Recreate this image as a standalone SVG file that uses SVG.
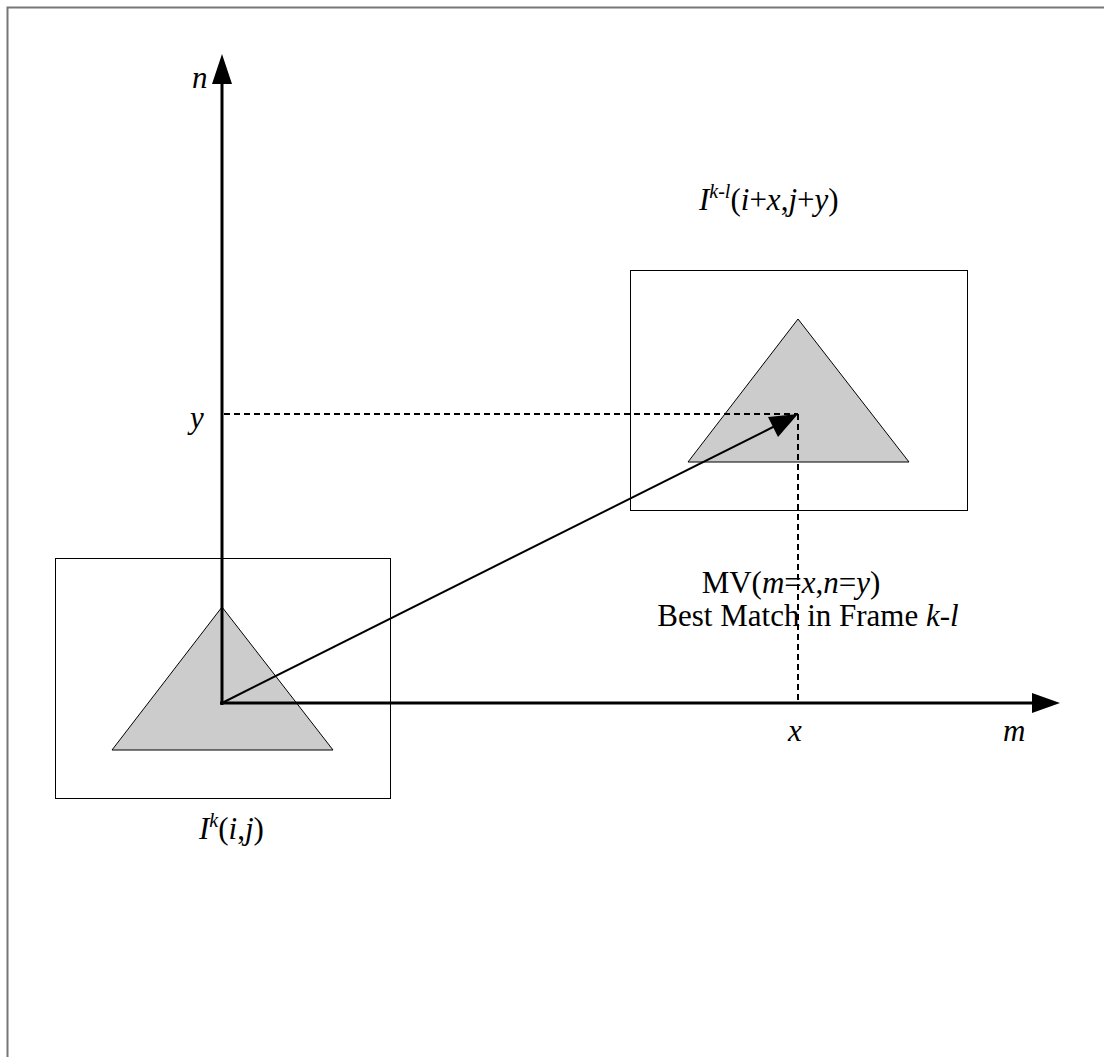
<svg xmlns="http://www.w3.org/2000/svg" width="1104" height="1057" viewBox="0 0 1104 1057">
<style>
.t{font-family:"Liberation Serif","Times New Roman",serif;font-size:31px;fill:#000}
.i{font-style:italic}
.sup{font-size:20px}
.box{fill:none;stroke:#000;stroke-width:1}
.tri{fill:#cccccc;stroke:#000;stroke-width:1}
.axis{stroke:#000;stroke-width:3;fill:none}
.dash{stroke:#000;stroke-width:2;stroke-dasharray:6,4;fill:none}
</style>
<rect x="7.5" y="7.5" width="1110" height="1070" fill="#fff" stroke="#777" stroke-width="2"/>
<g id="block-k">
<rect class="box" x="55.5" y="558.5" width="335" height="240"/>
<polygon class="tri" points="222,607 112,750 333,750"/>
<text class="t i" x="199" y="839">I<tspan class="sup" dy="-12">k</tspan><tspan dy="12" font-style="normal">(</tspan>i<tspan font-style="normal">,</tspan>j<tspan font-style="normal">)</tspan></text>
</g>
<g id="block-kl">
<rect class="box" x="630.5" y="270.5" width="337" height="240"/>
<polygon class="tri" points="798,319 688,462 909,462"/>
<text class="t i" x="699" y="210">I<tspan class="sup" dy="-12">k-l</tspan><tspan dy="12" font-style="normal">(</tspan>i<tspan font-style="normal">+</tspan>x<tspan font-style="normal">,</tspan>j<tspan font-style="normal">+</tspan>y<tspan font-style="normal">)</tspan></text>
</g>
<g id="labels">
<text class="t" x="791" y="593" text-anchor="middle">MV(<tspan class="i">m</tspan>=<tspan class="i">x</tspan>,<tspan class="i">n</tspan>=<tspan class="i">y</tspan>)</text>
<text class="t" x="808" y="626" text-anchor="middle">Best Match in Frame <tspan class="i">k</tspan>-<tspan class="i">l</tspan></text>
<text class="t i" x="192" y="88">n</text>
<text class="t i" x="1003" y="741">m</text>
<text class="t i" x="788" y="741">x</text>
<text class="t i" x="190" y="428">y</text>
</g>
<g id="connectors">
<line class="axis" x1="222" y1="705" x2="222" y2="84"/>
<polygon points="222,54 212,84 232,84" fill="#000"/>
<line class="axis" x1="220" y1="703" x2="1034" y2="703"/>
<polygon points="1060,703 1032,693 1032,713" fill="#000"/>
<line class="dash" x1="224" y1="414" x2="798" y2="414"/>
<line class="dash" x1="798" y1="414" x2="798" y2="702"/>
<line x1="222" y1="703" x2="775" y2="426" stroke="#000" stroke-width="2"/>
<polygon points="798,414 768,417 778,437" fill="#000"/>
</g>
</svg>
